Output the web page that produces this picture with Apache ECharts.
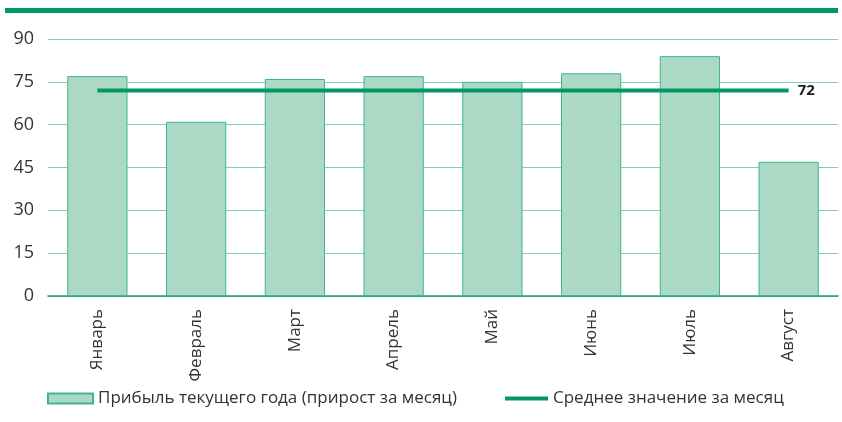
<!DOCTYPE html>
<html>
<head>
<meta charset="utf-8">
<script src="https://cdn.jsdelivr.net/npm/echarts@6/dist/echarts.min.js"></script>
<style>
  * { margin: 0; padding: 0; }
  body { background: #fff; }
</style>
</head>
<body>
<!-- контейнер под график -->
<div id="main" style="width: 842px; height: 422px;"></div>
<script>
// данные
var months = ['Январь', 'Февраль', 'Март', 'Апрель', 'Май', 'Июнь', 'Июль', 'Август'];
var profit = [77, 61, 76, 77, 75, 78, 84, 47];
var average = [72, 72, 72, 72, 72, 72, 72, 72];
var yTicks = [0, 15, 30, 45, 60, 75, 90];

var barName = 'Прибыль текущего года (прирост за месяц)';
var lineName = 'Среднее значение за месяц';

var font = '"Open Sans", sans-serif';

var chart = echarts.init(document.getElementById('main'));
chart.setOption({
  animation: false,
  graphic: [{
    type: 'rect',
    left: 5,
    top: 8,
    shape: { width: 833, height: 5 },
    style: { fill: '#009966' }
  }],
  grid: { left: 48, right: 4, top: 39, bottom: 126 },
  legend: [{
    left: 47,
    top: 390,
    padding: 0,
    data: [{ name: barName, icon: 'rect' }],
    itemWidth: 45,
    itemHeight: 10,
    textStyle: { fontFamily: font, fontSize: 17, color: '#333' }
  }, {
    left: 505,
    top: 390,
    padding: 0,
    data: [{ name: lineName, icon: 'rect' }],
    itemWidth: 43,
    itemHeight: 4,
    textStyle: { fontFamily: font, fontSize: 17, color: '#333' }
  }],
  xAxis: {
    type: 'category',
    data: months,
    axisTick: { show: false },
    axisLine: { lineStyle: { color: '#1a9e6f', width: 1.5 } },
    axisLabel: {
      rotate: 90,
      margin: 13,
      fontFamily: font,
      fontSize: 17,
      color: '#333'
    }
  },
  yAxis: {
    type: 'value',
    min: yTicks[0],
    max: yTicks[yTicks.length - 1],
    interval: 15,
    axisLine: { show: false },
    axisTick: { show: false },
    splitLine: { lineStyle: { color: '#7fcfb0', width: 1 } },
    axisLabel: {
      margin: 14,
      fontFamily: font,
      fontSize: 18,
      color: '#333'
    }
  },
  series: [{
    name: barName,
    type: 'bar',
    data: profit,
    barWidth: '61%',
    itemStyle: { color: '#acd8c6', borderColor: '#3db88a', borderWidth: 1 }
  }, {
    name: lineName,
    type: 'line',
    data: average,
    showSymbol: false,
    symbol: 'none',
    lineStyle: { color: '#009966', width: 4 },
    itemStyle: { color: '#009966' },
    endLabel: {
      show: true,
      distance: 9,
      formatter: function (p) { return p.value; },
      fontFamily: font,
      fontSize: 15,
      fontWeight: 'bold',
      color: '#222'
    }
  }]
});
</script>
</body>
</html>
